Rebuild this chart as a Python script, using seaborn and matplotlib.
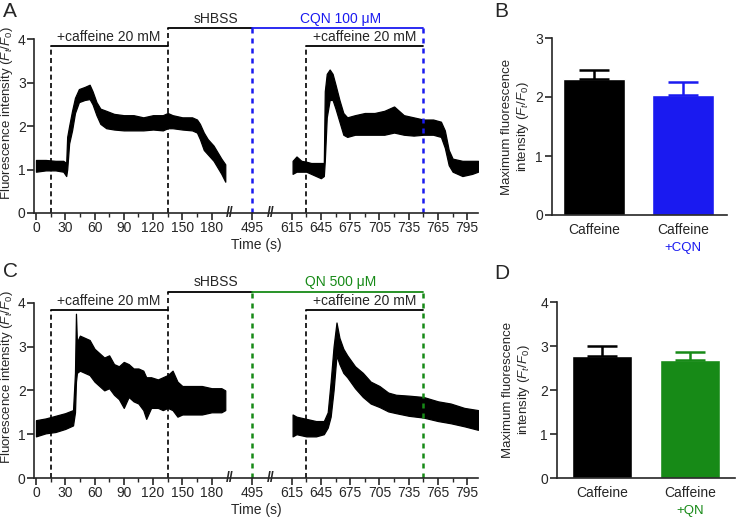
import numpy as np
import pandas as pd
import seaborn as sns
import matplotlib.pyplot as plt
import matplotlib.transforms as mtransforms
from matplotlib.ticker import FixedLocator

sns.set_style('ticks')
plt.rcParams['font.family'] = ['Liberation Sans', 'DejaVu Sans']
plt.rcParams['mathtext.fontset'] = 'custom'
plt.rcParams['mathtext.rm'] = 'Liberation Sans'
plt.rcParams['mathtext.it'] = 'Liberation Sans:italic'
plt.rcParams['axes.linewidth'] = 1.2

BLUE = '#1a1af0'
GREEN = '#178a17'

# --- traces (lower / upper edge of the noisy recording) ---
a1_t = [0, 10, 20, 28, 31, 32, 34, 37, 40, 44, 50, 55, 58, 62, 66, 72, 80, 90, 100,
        110, 120, 130, 135, 140, 150, 160, 165, 168, 172, 176, 182, 186, 190, 194]
a1_lo = [0.95, 0.98, 0.98, 0.95, 0.85, 1.0, 1.6, 1.9, 2.3, 2.55, 2.6, 2.62, 2.5, 2.25, 2.05,
         1.95, 1.92, 1.9, 1.9, 1.9, 1.92, 1.9, 1.95, 1.95, 1.92, 1.9, 1.85, 1.7, 1.45, 1.35,
         1.2, 1.05, 0.9, 0.72]
a1_hi = [1.22, 1.22, 1.2, 1.2, 1.15, 1.75, 2.0, 2.35, 2.65, 2.85, 2.9, 2.95, 2.8, 2.55, 2.4,
         2.35, 2.28, 2.25, 2.25, 2.2, 2.25, 2.25, 2.3, 2.25, 2.2, 2.2, 2.15, 2.05, 1.85, 1.7,
         1.55, 1.4, 1.25, 1.12]

a3_t = [616, 620, 625, 630, 635, 640, 645, 648, 649, 651, 654, 657, 660, 664, 668, 672, 680,
        690, 700, 710, 720, 730, 740, 750, 760, 768, 772, 776, 780, 790, 800, 806]
a3_lo = [0.9, 0.95, 0.95, 0.95, 0.9, 0.85, 0.8, 0.85, 1.2, 2.2, 2.6, 2.6, 2.4, 2.1, 1.8, 1.75,
         1.8, 1.8, 1.8, 1.8, 1.85, 1.8, 1.78, 1.8, 1.8, 1.75, 1.5, 1.1, 0.95, 0.85, 0.9, 0.95]
a3_hi = [1.2, 1.3, 1.2, 1.18, 1.15, 1.15, 1.15, 1.15, 2.8, 3.2, 3.3, 3.2, 2.95, 2.6, 2.3, 2.2,
         2.25, 2.3, 2.3, 2.35, 2.45, 2.25, 2.2, 2.15, 2.15, 2.1, 1.9, 1.45, 1.25, 1.2, 1.2, 1.2]

c1_t = [0, 10, 20, 30, 38, 40, 41, 42, 45, 50, 55, 60, 65, 70, 75, 80, 85, 90, 95, 100, 105,
        110, 113, 118, 125, 130, 135, 140, 145, 150, 160, 170, 180, 190, 194]
c1_lo = [0.95, 1.02, 1.05, 1.12, 1.2, 1.5, 2.2, 2.4, 2.45, 2.4, 2.35, 2.2, 2.1, 2.0, 2.05, 1.9,
         1.8, 1.6, 1.85, 1.75, 1.7, 1.55, 1.35, 1.6, 1.6, 1.55, 1.6, 1.55, 1.4, 1.45, 1.45,
         1.45, 1.5, 1.5, 1.55]
c1_hi = [1.32, 1.36, 1.42, 1.48, 1.55, 2.4, 3.75, 3.1, 3.25, 3.2, 3.15, 2.95, 2.85, 2.75, 2.8,
         2.6, 2.55, 2.65, 2.6, 2.5, 2.5, 2.45, 2.3, 2.3, 2.25, 2.3, 2.35, 2.45, 2.2, 2.1, 2.1,
         2.1, 2.05, 2.05, 2.0]

c3_t = [616, 620, 630, 640, 648, 652, 655, 658, 661, 664, 668, 672, 680, 688, 696, 705, 714,
        722, 735, 750, 765, 778, 792, 806]
c3_lo = [0.95, 1.0, 0.95, 0.95, 1.0, 1.15, 1.4, 2.0, 2.8, 2.6, 2.4, 2.3, 2.05, 1.85, 1.7, 1.62,
         1.52, 1.48, 1.42, 1.38, 1.3, 1.25, 1.18, 1.1]
c3_hi = [1.45, 1.4, 1.35, 1.3, 1.3, 1.5, 2.2, 3.0, 3.55, 3.2, 2.95, 2.8, 2.55, 2.4, 2.2, 2.1,
         1.95, 1.9, 1.88, 1.85, 1.75, 1.7, 1.6, 1.55]

# --- summary bars ---
groups = ['Caffeine', 'Caffeine + drug']
b_means = [2.30, 2.03]
b_sem = [0.16, 0.23]
d_means = [2.78, 2.68]
d_sem = [0.22, 0.18]

major_ticks = [0, 30, 60, 90, 120, 150, 180, 495, 615, 645, 675, 705, 735, 765, 795]
minor_ticks = [15, 45, 75, 105, 135, 165, 630, 660, 690, 720, 750, 780]

# broken time axis: piecewise linear mapping, gaps squeezed to nothing
t_knots = [-100, 198, 472, 514, 594, 900]
u_knots = [-100, 198, 198.5, 240.5, 241, 547]


def fwd(t):
    return np.interp(t, t_knots, u_knots)


def inv(u):
    return np.interp(u, u_knots, t_knots)


def trace_panel(ax, segs, drug_color, drug_label):
    for t, lo, hi in segs:
        ax.fill_between(t, lo, hi, facecolor='black', edgecolor='black', lw=0.9)
    ax.set_xscale('function', functions=(fwd, inv))
    ax.set_xlim(-2, 806)
    ax.set_ylim(0, 4.6)

    cafe_y, sol_y = 3.83, 4.25
    dash = (0, (3, 2))
    dot = (0, (2, 2))
    ax.plot([15, 15], [0, cafe_y], color='black', ls=dash, lw=1.2)
    ax.plot([135, 135], [0, sol_y], color='black', ls=dash, lw=1.2)
    ax.plot([630, 630], [0, cafe_y], color='black', ls=dash, lw=1.2)
    ax.plot([495, 495], [0, sol_y], color=drug_color, ls=dot, lw=1.8)
    ax.plot([750, 750], [0, sol_y], color=drug_color, ls=dot, lw=1.8)
    ax.plot([15, 135], [cafe_y, cafe_y], color='black', lw=1.3)
    ax.plot([630, 750], [cafe_y, cafe_y], color='black', lw=1.3)
    ax.plot([135, 495], [sol_y, sol_y], color='black', lw=1.3)
    ax.plot([495, 750], [sol_y, sol_y], color=drug_color, lw=1.3)
    ax.text(75, cafe_y + 0.06, '+caffeine 20 mM', ha='center', va='bottom', fontsize=10)
    ax.text(690, cafe_y + 0.06, '+caffeine 20 mM', ha='center', va='bottom', fontsize=10)
    ax.text(185, sol_y + 0.06, 'sHBSS', ha='center', va='bottom', fontsize=10)
    ax.text(665, sol_y + 0.06, drug_label, ha='center', va='bottom', fontsize=10,
            color=drug_color)

    ax.xaxis.set_major_locator(FixedLocator(major_ticks))
    ax.xaxis.set_minor_locator(FixedLocator(minor_ticks))
    ax.set_xticklabels([str(v) for v in major_ticks])
    ax.set_yticks([0, 1, 2, 3, 4])
    ax.tick_params(axis='both', which='major', length=5, width=1.2, labelsize=10, pad=1)
    ax.tick_params(axis='x', which='minor', length=3, width=1.0)
    sns.despine(ax=ax)
    ax.spines['left'].set_bounds(0, 4)
    ax.set_xlabel('Time (s)', fontsize=10, labelpad=2)
    ax.set_ylabel(r'Fluorescence intensity ($F_t$/$F_0$)', fontsize=9.5)
    ax.yaxis.set_label_coords(-0.043, 0.5)

    trans = mtransforms.blended_transform_factory(ax.transData, ax.transAxes)
    for tb in (335, 554):
        ax.text(tb, 0, '//', transform=trans, ha='center', va='center', fontsize=10,
                fontweight='bold', clip_on=False)


def bar_panel(ax, means, sems, color, sub_label, ymax, xlim, label_x):
    sns.barplot(x=groups, y=means, hue=groups, palette=['black', color], legend=False,
                width=0.69, errorbar=None, saturation=1, ax=ax)
    for i, (m, s) in enumerate(zip(means, sems)):
        ax.errorbar(i, m, yerr=[[0], [s]], fmt='none', ecolor=['black', color][i],
                    elinewidth=1.8, capsize=11, capthick=1.8, zorder=1)
    ax.set_xlim(*xlim)
    ax.set_ylim(0, ymax)
    ax.set_yticks(range(ymax + 1))
    ax.set_xticks([0, 1])
    ax.set_xticklabels(['Caffeine', 'Caffeine'])
    ax.tick_params(axis='y', length=5, width=1.2, labelsize=10, pad=1.5)
    ax.tick_params(axis='x', length=0, labelsize=10, pad=6)
    sns.despine(ax=ax)
    ax.set_xlabel('')
    ax.set_ylabel('Maximum fluorescence\nintensity ($F_t$/$F_0$)', fontsize=9.5)
    ax.yaxis.set_label_coords(label_x, 0.5)
    ax.annotate(sub_label, xy=(1, 0), xycoords=('data', 'axes fraction'), xytext=(0, -24),
                textcoords='offset points', ha='center', va='center', fontsize=9.5,
                color=color)


fig = plt.figure(figsize=(7.37, 5.2), dpi=100)
W, H = 737, 520


def box(left, top, right, bottom):
    return [left / W, 1 - bottom / H, (right - left) / W, (bottom - top) / H]


ax_a = fig.add_axes(box(34, 13, 478, 213))
ax_b = fig.add_axes(box(552, 38, 727, 215))
ax_c = fig.add_axes(box(34, 276.5, 478, 478))
ax_d = fig.add_axes(box(557, 302, 735, 478))

trace_panel(ax_a, [(a1_t, a1_lo, a1_hi), (a3_t, a3_lo, a3_hi)], BLUE, 'CQN 100 μM')
trace_panel(ax_c, [(c1_t, c1_lo, c1_hi), (c3_t, c3_lo, c3_hi)], GREEN, 'QN 500 μM')
bar_panel(ax_b, b_means, b_sem, BLUE, '+CQN', 3, (-0.47, 1.49), -0.12)
bar_panel(ax_d, d_means, d_sem, GREEN, '+QN', 4, (-0.51, 1.51), -0.14)

for letter, x, y in [('A', 3, 2), ('B', 494, 2), ('C', 3, 262), ('D', 494, 264)]:
    fig.text(x / W, 1 - y / H, letter, fontsize=15, ha='left', va='top')

fig.savefig('out.png', dpi=100)
